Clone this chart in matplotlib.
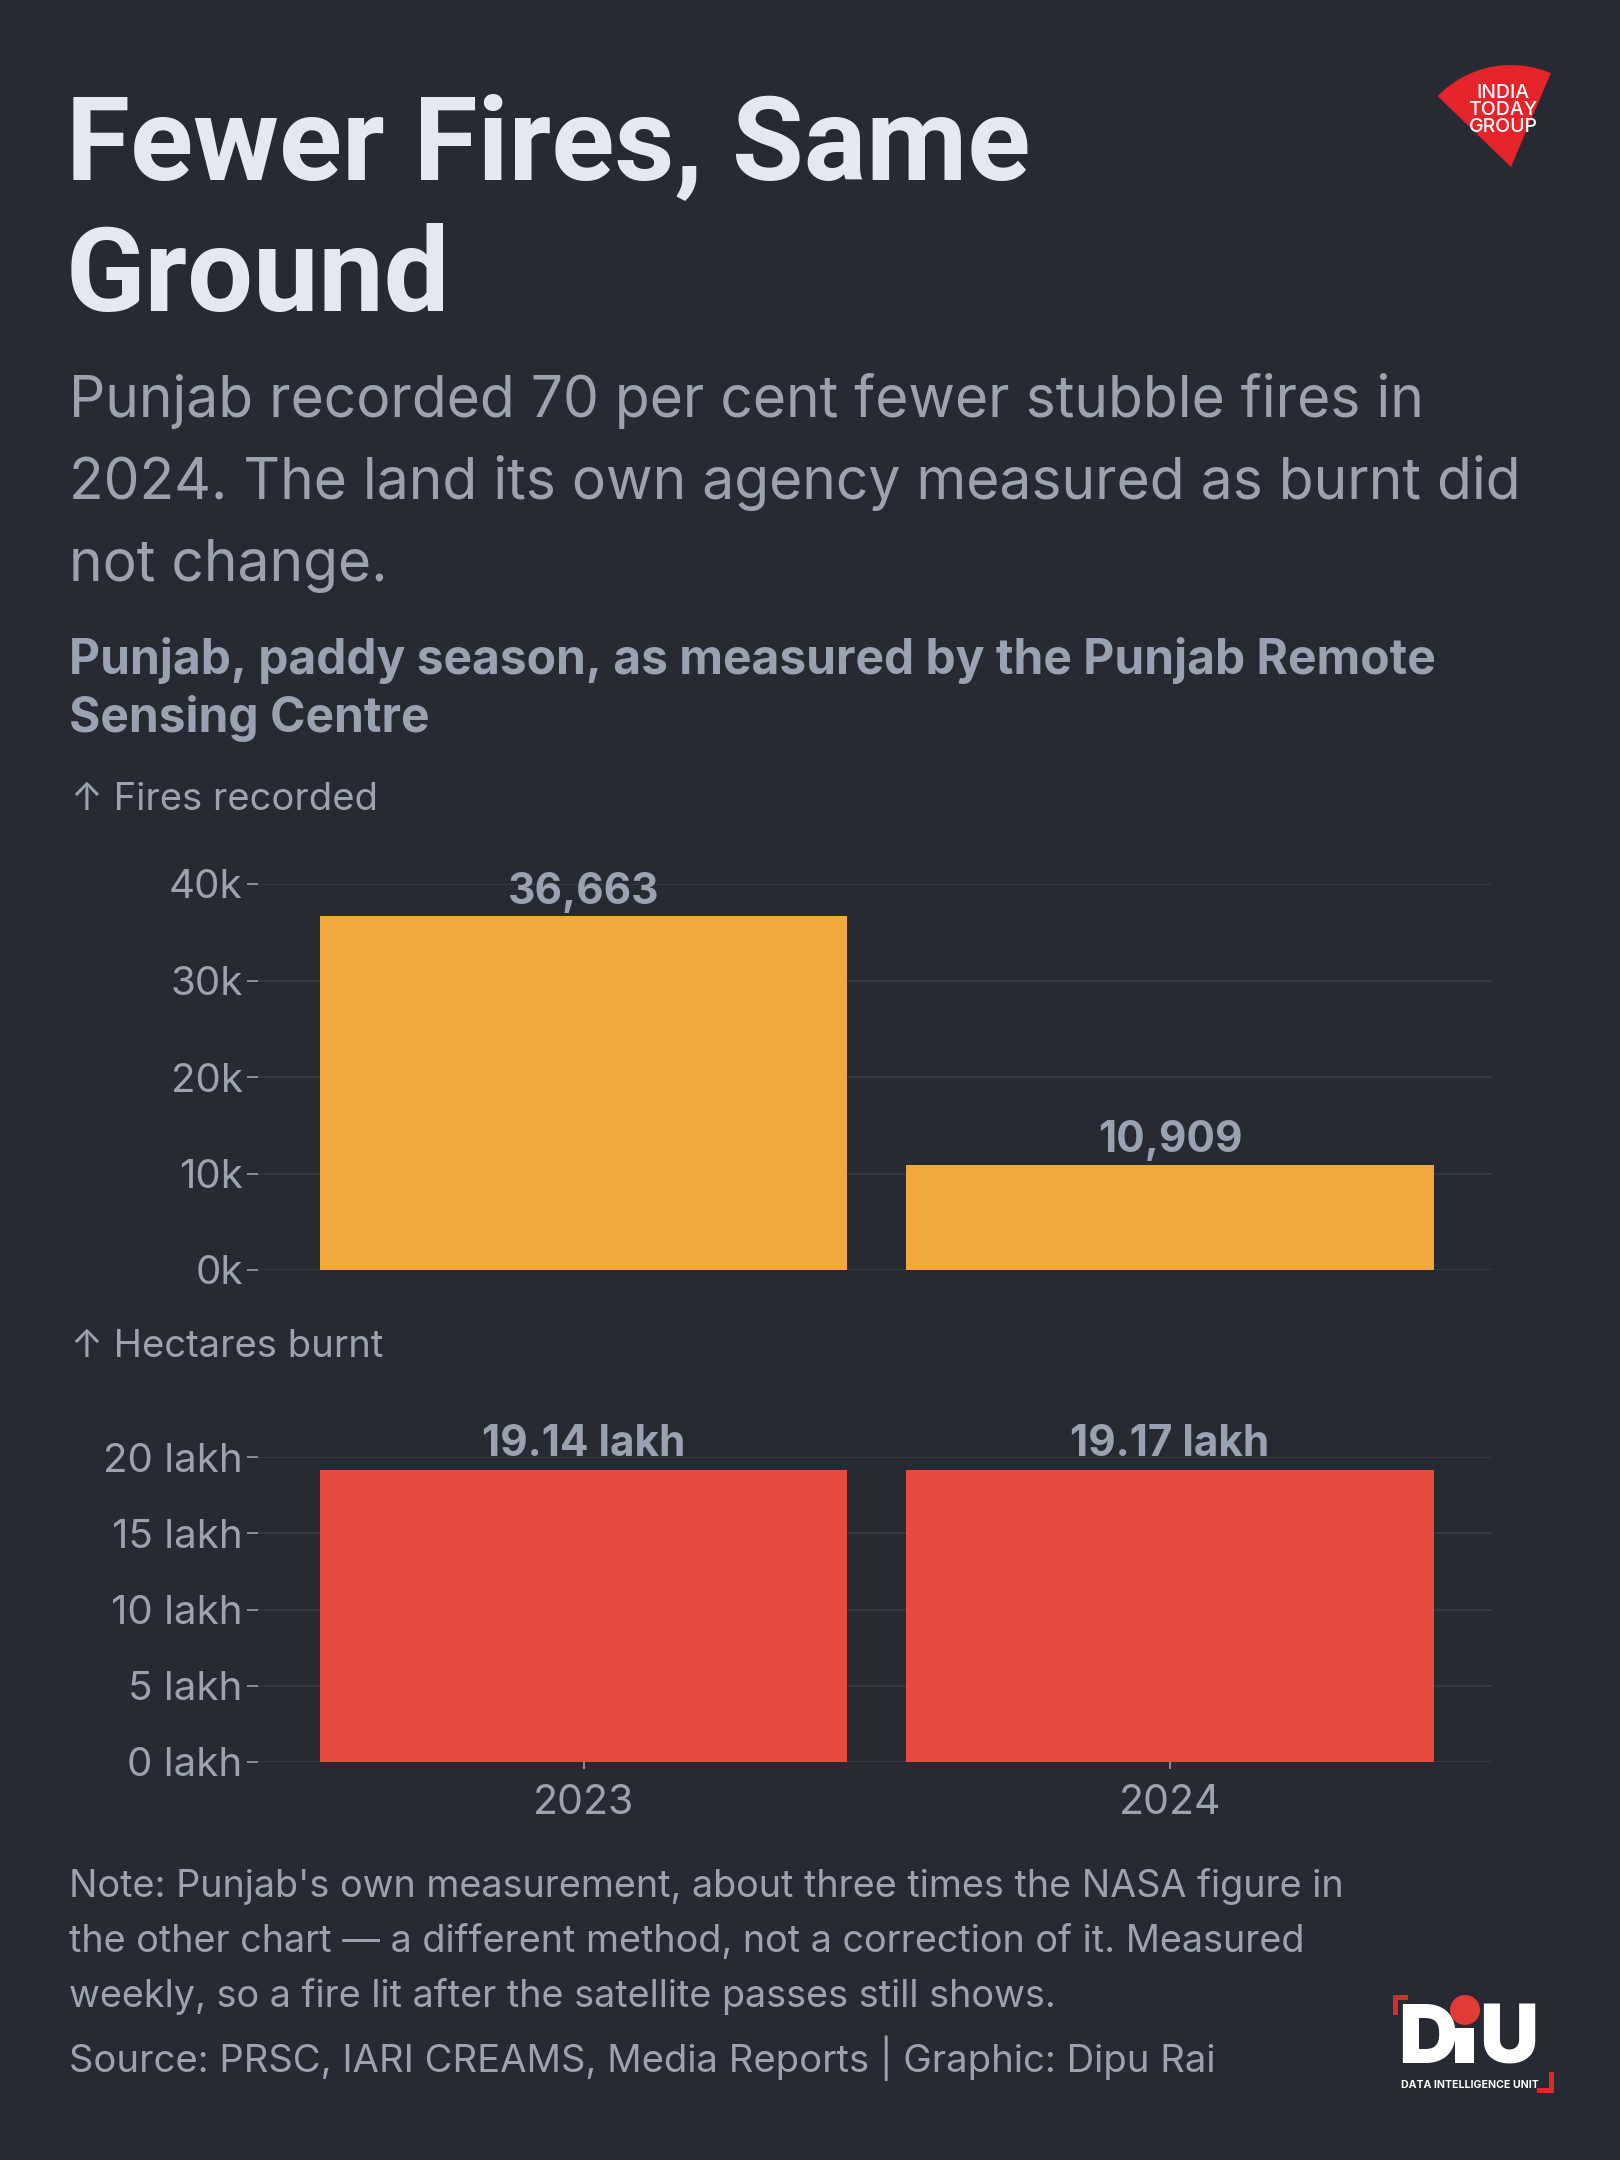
import matplotlib
matplotlib.use('Agg')
import matplotlib.pyplot as plt
from matplotlib.patches import Wedge, Circle, Rectangle
from matplotlib.ticker import FixedLocator, FixedFormatter

# ---------------- data ----------------
years = ['2023', '2024']
fires = [36663, 10909]
hectares = [1914000, 1917000]
fire_value_labels = ['36,663', '10,909']
hect_value_labels = ['19.14 lakh', '19.17 lakh']
fire_ticks = [0, 10000, 20000, 30000, 40000]
fire_tick_labels = ['0k', '10k', '20k', '30k', '40k']
hect_ticks = [0, 500000, 1000000, 1500000, 2000000]
hect_tick_labels = ['0 lakh', '5 lakh', '10 lakh', '15 lakh', '20 lakh']

title_lines = ['Fewer Fires, Same', 'Ground']
subtitle_lines = ['Punjab recorded 70 per cent fewer stubble fires in',
                  '2024. The land its own agency measured as burnt did',
                  'not change.']
chart_title_lines = ['Punjab, paddy season, as measured by the Punjab Remote',
                     'Sensing Centre']
note_lines = ["Note: Punjab's own measurement, about three times the NASA figure in",
              "the other chart \u2014 a different method, not a correction of it. Measured",
              "weekly, so a fire lit after the satellite passes still shows."]
source_text = 'Source: PRSC, IARI CREAMS, Media Reports | Graphic: Dipu Rai'

# ---------------- style ----------------
BG = '#272a33'
TITLE_C = '#e6e8f0'
GREY = '#9ca3af'
GREY_B = '#9aa1b0'
GRID = '#363a45'
ORANGE = '#f0a83c'
RED = '#e74a3f'
FONT = ['Inter', 'DejaVu Sans']
TFONT = ['Roboto', 'DejaVu Sans']

W, H, DPI = 1620, 2160, 100
fig = plt.figure(figsize=(W / DPI, H / DPI), dpi=DPI, facecolor=BG)


def rect(left, top, right, bottom):
    return [left / W, 1 - bottom / H, (right - left) / W, (bottom - top) / H]


ov = fig.add_axes([0, 0, 1, 1], zorder=0)
ov.set_xlim(0, W)
ov.set_ylim(H, 0)
ov.axis('off')
ov.set_facecolor(BG)

# titles
for i, t in enumerate(title_lines):
    ov.text(66, 179 + i * 132, t, color=TITLE_C, fontsize=84, fontweight='bold',
            family=TFONT, va='baseline', ha='left')
for i, t in enumerate(subtitle_lines):
    ov.text(69, 417 + i * 82, t, color=GREY, fontsize=41, family=FONT,
            va='baseline', ha='left')
for i, t in enumerate(chart_title_lines):
    ov.text(69, 674 + i * 58, t, color=GREY_B, fontsize=34.5, fontweight='bold',
            family=FONT, va='baseline', ha='left')

ov.text(71, 810, '\u2191 Fires recorded', color=GREY, fontsize=27.5, family=FONT,
        va='baseline', ha='left')
ov.text(71, 1357, '\u2191 Hectares burnt', color=GREY, fontsize=27.5, family=FONT,
        va='baseline', ha='left')

for i, t in enumerate(note_lines):
    ov.text(69, 1897 + i * 55, t, color=GREY, fontsize=27.2, family=FONT,
            va='baseline', ha='left')
ov.text(69, 2072, source_text, color=GREY, fontsize=27.5, family=FONT,
        va='baseline', ha='left')

# India Today logo
ov.add_patch(Wedge((1511, 167), 102, 224, 293, color='#e4232b', lw=0))
for i, t in enumerate(['INDIA', 'TODAY', 'GROUP']):
    ov.text(1503, 98 + i * 17, t, color='white', fontsize=14, family=FONT,
            ha='center', va='baseline', fontweight='medium')

# DIU logo
ov.add_patch(Rectangle((1393, 1995), 15, 5, color='#d92b2b', lw=0))
ov.add_patch(Rectangle((1393, 1995), 5, 20, color='#d92b2b', lw=0))
ov.add_patch(Rectangle((1537, 2088), 17, 5, color='#d92b2b', lw=0))
ov.add_patch(Rectangle((1549, 2072), 5, 21, color='#d92b2b', lw=0))
ov.text(1398, 2063, 'D', color='white', fontsize=59, fontweight='black',
        family=FONT, ha='left', va='baseline')
ov.add_patch(Rectangle((1455, 2028), 19, 35, color='white', lw=0))
ov.add_patch(Circle((1465, 2010), 15, color='#e23a35', lw=0))
ov.text(1479, 2063, 'U', color='white', fontsize=59, fontweight='black',
        family=FONT, ha='left', va='baseline')
ov.text(1470, 2088, 'DATA INTELLIGENCE UNIT', color='white', fontsize=7.6,
        fontweight='bold', family=FONT, ha='center', va='baseline')

x = list(range(len(years)))


def style_axis(ax, ticks, labels, ymax):
    ax.set_facecolor('none')
    ax.set_xlim(-0.555, 1.549)
    ax.set_ylim(0, ymax)
    for s in ax.spines.values():
        s.set_visible(False)
    ax.yaxis.set_major_locator(FixedLocator(ticks))
    ax.yaxis.set_major_formatter(FixedFormatter(labels))
    ax.tick_params(axis='y', length=8, width=1.2, color=GREY, pad=3,
                   labelsize=29, labelcolor=GREY)
    for lab in ax.get_yticklabels():
        lab.set_family(FONT)
    ax.grid(axis='y', color=GRID, lw=1.2)
    ax.set_axisbelow(True)


ax1 = fig.add_axes(rect(258, 884, 1492, 1270), zorder=2)
style_axis(ax1, fire_ticks, fire_tick_labels, 40000)
ax1.bar(x, fires, width=0.9, color=ORANGE, lw=0)
ax1.set_xticks([])
for xi, v, lab in zip(x, fires, fire_value_labels):
    ax1.annotate(lab, (xi, v), xytext=(0, 9), textcoords='offset points',
                 ha='center', va='baseline', fontsize=30.5, fontweight='bold',
                 color=GREY_B, family=FONT, annotation_clip=False)

ax2 = fig.add_axes(rect(258, 1457, 1492, 1762), zorder=2)
style_axis(ax2, hect_ticks, hect_tick_labels, 2000000)
ax2.bar(x, hectares, width=0.9, color=RED, lw=0)
ax2.set_xticks(x)
ax2.set_xticklabels(years)
ax2.tick_params(axis='x', length=5, width=1.2, color=GREY, pad=11,
                labelsize=29.5, labelcolor=GREY)
for lab in ax2.get_xticklabels():
    lab.set_family(FONT)
for xi, v, lab in zip(x, hectares, hect_value_labels):
    ax2.annotate(lab, (xi, v), xytext=(0, 10), textcoords='offset points',
                 ha='center', va='baseline', fontsize=30.5, fontweight='bold',
                 color=GREY_B, family=FONT, annotation_clip=False)

fig.savefig('out.png', dpi=DPI, facecolor=BG)
